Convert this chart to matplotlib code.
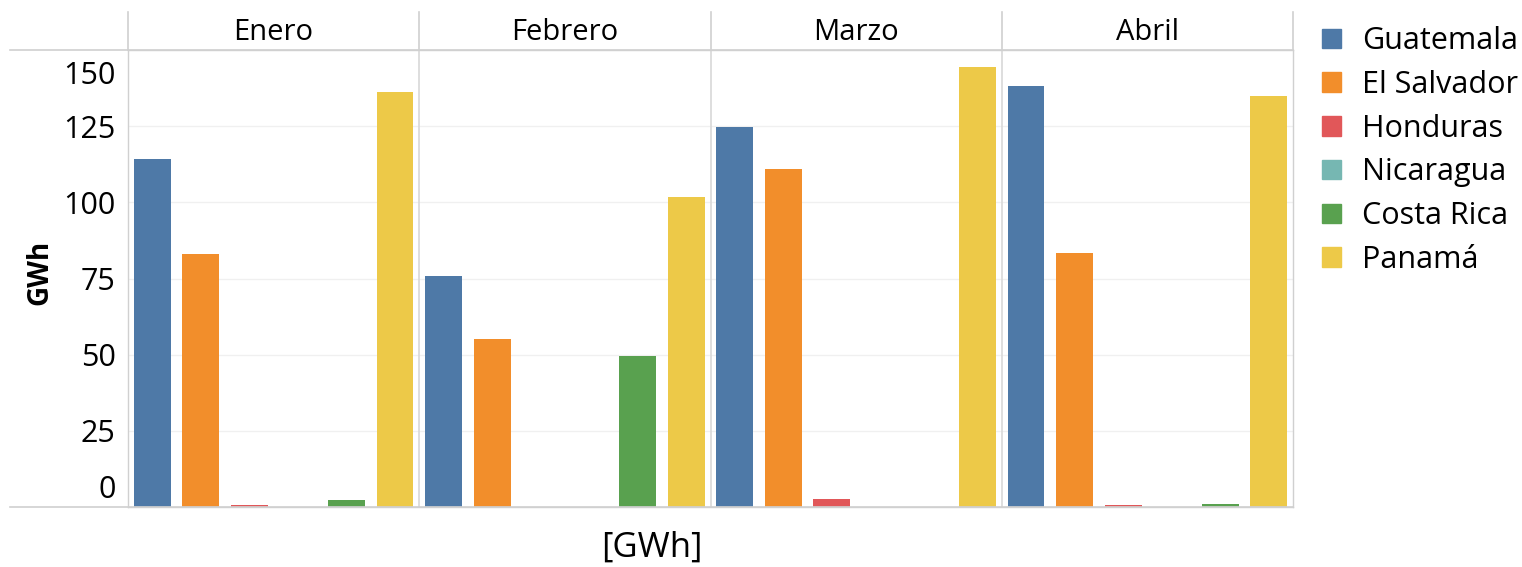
import matplotlib.pyplot as plt
from matplotlib.lines import Line2D
from matplotlib.transforms import ScaledTranslation

months = ["Enero", "Febrero", "Marzo", "Abril"]
countries = ["Guatemala", "El Salvador", "Honduras", "Nicaragua", "Costa Rica", "Panamá"]
colors = ["#4e79a7", "#f28e2b", "#e15759", "#76b7b2", "#59a14f", "#edc948"]

# GWh per country, one list per month (same order as countries)
enero = [114.2, 83.0, 0.8, 0.0, 2.2, 136.3]
febrero = [75.7, 55.0, 0.0, 0.0, 49.5, 101.9]
marzo = [124.7, 110.9, 2.6, 0.0, 0.0, 144.3]
abril = [138.2, 83.5, 0.6, 0.0, 0.9, 135.0]
values = [enero, febrero, marzo, abril]

yticks = [0, 25, 50, 75, 100, 125, 150]

plt.rcParams['font.family'] = ['Open Sans', 'DejaVu Sans']

W, H = 1522, 567
fig = plt.figure(figsize=(W / 100, H / 100), dpi=100)
x0, x1, ytop, ybot = 128, 1293, 50, 507
ax = fig.add_axes([x0 / W, 1 - ybot / H, (x1 - x0) / W, (ybot - ytop) / H])

n = len(countries)
for m, vals in enumerate(values):
    for c, v in enumerate(vals):
        if v <= 0:
            continue
        ax.bar(m * n + c, v, width=0.76, color=colors[c])

ax.set_xlim(-0.5, len(months) * n - 0.5)
ax.set_ylim(0, 150)
ax.set_xticks([])
ax.set_yticks(yticks)
ax.set_yticklabels([str(t) for t in yticks], fontsize=22)
ax.tick_params(axis='y', length=0, pad=9)
for t in yticks[1:-1]:
    ax.axhline(t, color="#f0f0f0", lw=1, zorder=0)

# nudge end labels inside the pane like Tableau does
labels = ax.get_yticklabels()
labels[0].set_transform(labels[0].get_transform() + ScaledTranslation(0, 0.20, fig.dpi_scale_trans))
labels[-1].set_transform(labels[-1].get_transform() + ScaledTranslation(0, -0.22, fig.dpi_scale_trans))

for s in ax.spines.values():
    s.set_color("#d0d0d0")
    s.set_linewidth(1)

# panel separators
for m in range(1, len(months)):
    ax.axvline(m * n - 0.5, color="#d8d8d8", lw=1.2)

# header lines and panel titles
gray = "#d0d0d0"
fig.add_artist(Line2D([10 / W, x1 / W], [1 - ytop / H] * 2, color=gray, lw=1.2))
fig.add_artist(Line2D([10 / W, x1 / W], [1 - ybot / H] * 2, color=gray, lw=1.2))
pw = (x1 - x0) / len(months)
for m in range(len(months) + 1):
    xp = (x0 + m * pw) / W
    fig.add_artist(Line2D([xp, xp], [1 - 12 / H, 1 - ytop / H], color=gray, lw=1.2))
for m, name in enumerate(months):
    fig.text((x0 + (m + 0.5) * pw) / W, 1 - 32 / H, name, ha="center", va="center", fontsize=21)

fig.text(652 / W, 1 - 548 / H, "[GWh]", ha="center", va="center", fontsize=25)
fig.text(40 / W, 1 - 272 / H, "GWh", ha="center", va="center", rotation=90,
         fontsize=20, fontweight="bold")

from matplotlib.patches import Patch
handles = [Patch(color=col) for col in colors]
fig.legend(handles, countries, loc="upper left", bbox_to_anchor=(1310 / W, 1 - 14 / H),
           frameon=False, fontsize=22, handlelength=0.6, handleheight=0.6,
           handletextpad=0.7, labelspacing=0.45, borderaxespad=0)

fig.savefig("out.png", dpi=100)
